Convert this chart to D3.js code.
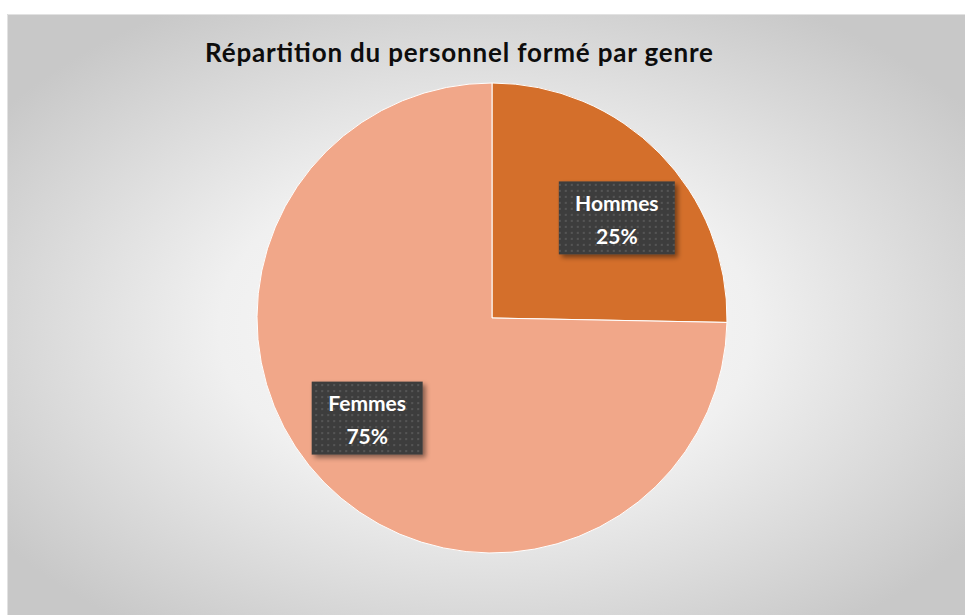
<!DOCTYPE html>
<html>
<head>
<meta charset="utf-8">
<script src="https://cdn.jsdelivr.net/npm/d3@7"></script>
<style>
  body { margin: 0; background: #fff; }
  svg { display: block; font-family: Lato, "Open Sans", sans-serif; }
</style>
</head>
<body>
<div id="chart"></div>
<script>
const categories = ["Hommes", "Femmes"]
const values = [25.3, 74.7]
const percentLabels = ["25%", "75%"]
const colors = ["#d46f2b", "#f1a789"]
const title = "Répartition du personnel formé par genre"

const W = 965, H = 615
const cx = 492, cy = 318, radius = 235

const svg = d3.select("#chart").append("svg")
    .attr("width", W)
    .attr("height", H)

const defs = svg.append("defs")

// fond : dégradé radial gris
const grad = defs.append("radialGradient")
    .attr("id", "bg")
    .attr("cx", "50%").attr("cy", "52%").attr("r", "62%")
grad.append("stop").attr("offset", "0%").attr("stop-color", "#fbfbfb")
grad.append("stop").attr("offset", "45%").attr("stop-color", "#f0f0f0")
grad.append("stop").attr("offset", "100%").attr("stop-color", "#c8c8c8")

// motif pointillé des étiquettes
const pat = defs.append("pattern")
    .attr("id", "dots")
    .attr("width", 6).attr("height", 6)
    .attr("patternUnits", "userSpaceOnUse")
pat.append("rect").attr("width", 6).attr("height", 6).attr("fill", "#3e3e3e")
pat.append("rect").attr("x", 2).attr("y", 2).attr("width", 2).attr("height", 2).attr("fill", "#555555")

const shadow = defs.append("filter")
    .attr("id", "shadow")
    .attr("x", "-20%").attr("y", "-20%").attr("width", "150%").attr("height", "150%")
shadow.append("feDropShadow")
    .attr("dx", 3).attr("dy", 3).attr("stdDeviation", 2.5)
    .attr("flood-color", "#000").attr("flood-opacity", 0.45)

svg.append("rect")
    .attr("x", 7).attr("y", 14)
    .attr("width", W - 7).attr("height", H - 14)
    .attr("fill", "url(#bg)")
svg.append("path")
    .attr("d", `M7.5,${H}V14.5H${W}`)
    .attr("fill", "none")
    .attr("stroke", "#e2e2e2")

svg.append("text")
    .attr("x", 459)
    .attr("y", 62)
    .attr("text-anchor", "middle")
    .attr("font-size", 26)
    .attr("font-weight", "bold")
    .attr("fill", "#0d0d0d")
    .attr("textLength", 508)
    .attr("lengthAdjust", "spacing")
    .text(title)

const data = categories.map((c, i) => ({ name: c, value: values[i], label: percentLabels[i], color: colors[i] }))

const pie = d3.pie().sort(null).value(d => d.value)
const arc = d3.arc().innerRadius(0).outerRadius(radius)
// les étiquettes d'Excel sont un peu décalées dans le sens horaire
const labelPie = d3.pie().sort(null).value(d => d.value)
    .startAngle(0.1).endAngle(2 * Math.PI + 0.1)
const labelArc = d3.arc().innerRadius(160).outerRadius(160)

const g = svg.append("g").attr("transform", `translate(${cx},${cy})`)

g.selectAll(".slice")
    .data(pie(data))
    .enter()
    .append("path")
    .attr("class", "slice")
    .attr("d", arc)
    .attr("fill", d => d.data.color)
    .attr("stroke", "#ffffff")
    .attr("stroke-width", 1)

const boxW = [116, 111], boxH = 73

const labels = g.selectAll(".lbl")
    .data(labelPie(data))
    .enter()
    .append("g")
    .attr("class", "lbl")
    .attr("transform", d => "translate(" + labelArc.centroid(d) + ")")

labels.append("rect")
    .attr("x", (d, i) => -boxW[i] / 2)
    .attr("y", -boxH / 2)
    .attr("width", (d, i) => boxW[i])
    .attr("height", boxH)
    .attr("fill", "url(#dots)")
    .attr("filter", "url(#shadow)")

labels.append("text")
    .attr("text-anchor", "middle")
    .attr("y", -7)
    .attr("font-size", 21)
    .attr("font-weight", "bold")
    .attr("fill", "#fff")
    .text(d => d.data.name)

labels.append("text")
    .attr("text-anchor", "middle")
    .attr("y", 26)
    .attr("font-size", 21)
    .attr("font-weight", "bold")
    .attr("fill", "#fff")
    .text(d => d.data.label)
</script>
</body>
</html>
